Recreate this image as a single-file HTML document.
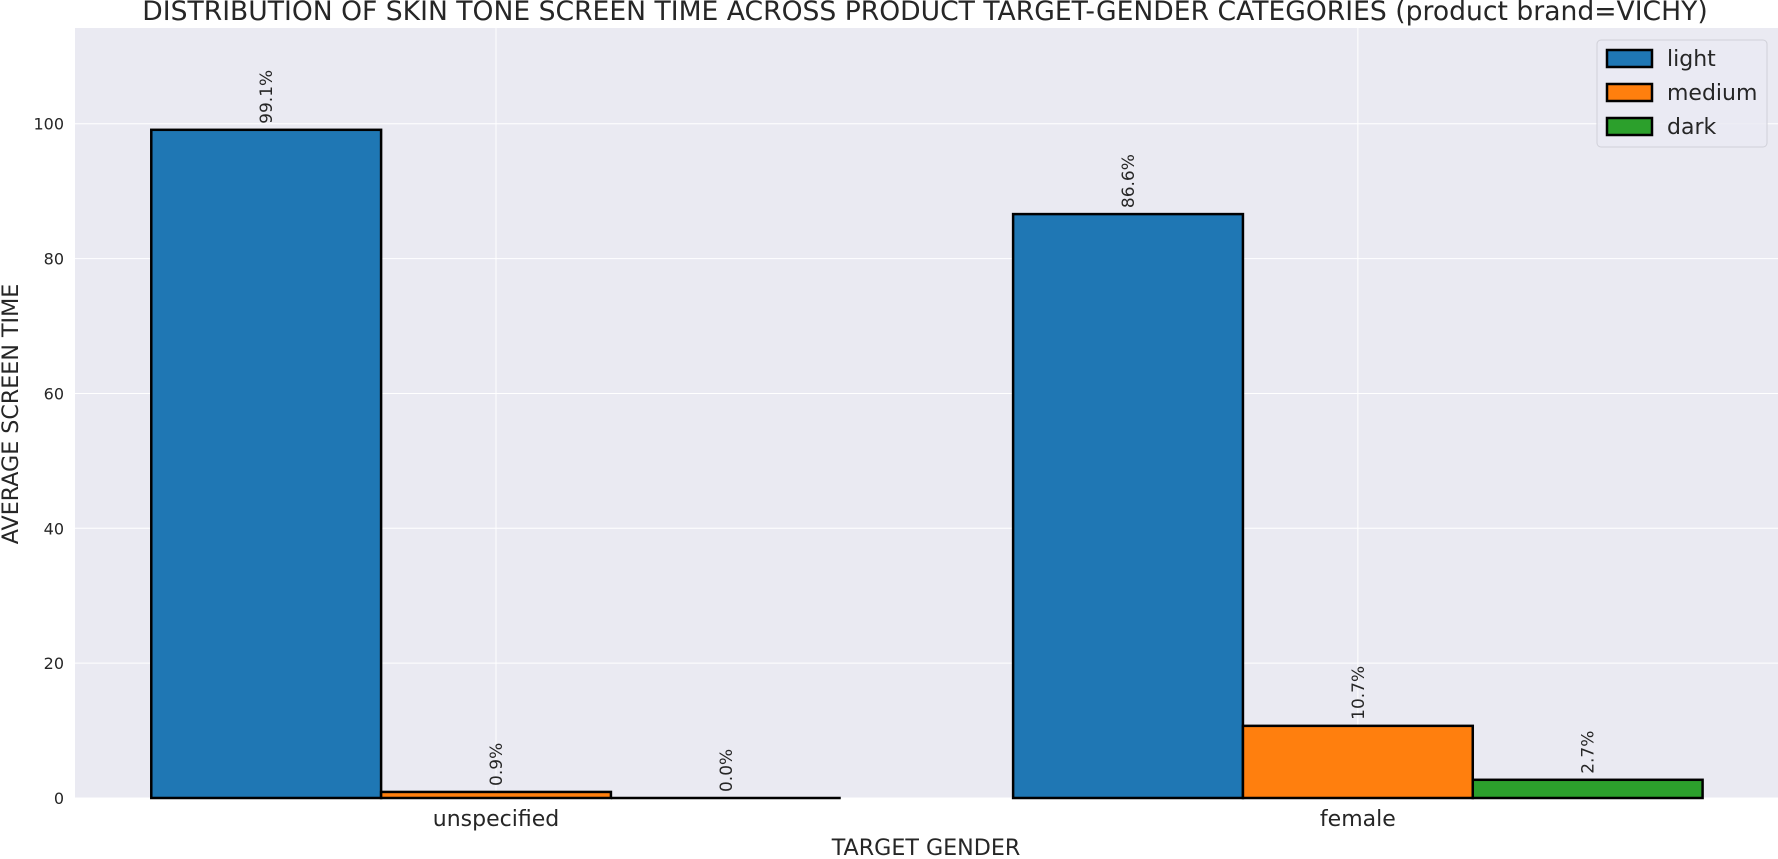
<!DOCTYPE html>
<html><head><meta charset="utf-8"><style>
body{margin:0;background:#fff;}
svg{display:block;font-family:"DejaVu Sans","Liberation Sans",sans-serif;}
</style></head><body>
<svg id="c" width="1778" height="859"></svg>
<script>
const categories=["unspecified","female"];
const series=["light","medium","dark"];
const colors=["#1f77b4","#ff7f0e","#2ca02c"];
const values=[[99.1,86.6],[0.9,10.7],[0.0,2.7]];
const yTicks=[0,20,40,60,80,100];
const NS="http://www.w3.org/2000/svg";
const svg=document.getElementById('c');
const L=75,R=1778,T=28,B=798,ymax=114.2,xmin=-0.4885,xmax=1.4875;
const y=v=>B-(v/ymax)*(B-T);
const x=v=>L+(v-xmin)/(xmax-xmin)*(R-L);
function el(t,a,p){const e=document.createElementNS(NS,t);for(const k in a)e.setAttribute(k,a[k]);(p||svg).appendChild(e);return e;}
const bg=el('rect',{x:L,y:T,width:R-L,height:B-T,fill:'#eaeaf2'});


yTicks.forEach(t=>{
 const g=el('line',{x1:L,x2:R,y1:y(t),y2:y(t),stroke:'#fff','stroke-width':1});
 
 
 const tx=el('text',{x:L-11,y:y(t)+6,'text-anchor':'end','font-size':16,fill:'#262626'});
 tx.textContent=t;
 
 
});
categories.forEach((c,i)=>{
 const g=el('line',{x1:x(i),x2:x(i),y1:T,y2:B,stroke:'#fff','stroke-width':1});
 
 
 const tx=el('text',{x:x(i),y:B+28,'text-anchor':'middle','font-size':22,fill:'#262626'});
 tx.textContent=c;
 
 
});
const bw=0.8/3;
series.forEach((s,si)=>{
 categories.forEach((c,ci)=>{
  const v=values[si][ci];
  const cx=ci+(si-1)*bw;
  const x0=x(cx-bw/2),x1=x(cx+bw/2);
  if(B-y(v)<1){
   const r=el('line',{x1:x0,x2:x1,y1:y(v),y2:y(v),stroke:'#000','stroke-width':2.5});
   
   
  }else{
   const r=el('rect',{x:x0,y:y(v),width:x1-x0,height:B-y(v),fill:colors[si],stroke:'#000','stroke-width':2.5});
   
   
  }
  const lx=x(cx)+6,ly=y(v)-6;
  const t=el('text',{x:lx,y:ly,transform:`rotate(-90 ${lx} ${ly})`,'font-size':17,fill:'#262626'});
  t.textContent=v.toFixed(1)+'%';
  
  
 });
});
const title=el('text',{x:925,y:20,'text-anchor':'middle','font-size':26.6,fill:'#262626'});
title.textContent='DISTRIBUTION OF SKIN TONE SCREEN TIME ACROSS PRODUCT TARGET-GENDER CATEGORIES (product brand=VICHY)';


const xl=el('text',{x:926,y:855,'text-anchor':'middle','font-size':22.2,fill:'#262626'});
xl.textContent='TARGET GENDER';


const yl=el('text',{x:18,y:414,'text-anchor':'middle','font-size':22.2,fill:'#262626',transform:'rotate(-90 18 414)'});
yl.textContent='AVERAGE SCREEN TIME';


const lg=el('g',{});


el('rect',{x:1597,y:40,width:170,height:107,rx:4,fill:'#eaeaf2','fill-opacity':0.8,stroke:'#d0d0d8'},lg);
series.forEach((s,i)=>{
 const yy=58+i*34;
 const sw=el('rect',{x:1607,y:yy-8,width:45,height:17,fill:colors[i],stroke:'#000','stroke-width':2.5},lg);
 
 
 const t=el('text',{x:1667,y:yy+8,'font-size':22,fill:'#262626'},lg);
 t.textContent=s;
 
 
});
</script>
</body></html>
